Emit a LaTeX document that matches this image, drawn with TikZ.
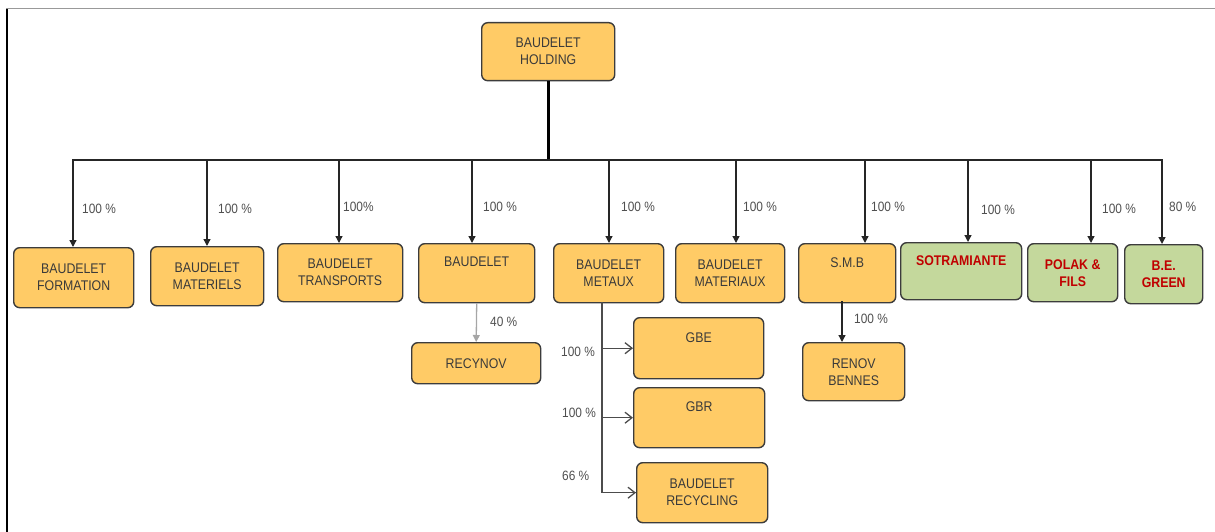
\documentclass[tikz,border=0pt]{standalone}
\usepackage{fontspec}
\setmainfont{Liberation Sans}[FakeStretch=0.88]
\usetikzlibrary{arrows.meta}
\definecolor{ofill}{HTML}{FFCB66}
\definecolor{gfill}{HTML}{C4D89C}
\definecolor{bordc}{HTML}{3C3C3C}
\definecolor{txtc}{HTML}{3A3A3A}
\definecolor{redt}{HTML}{C00000}
\definecolor{pctc}{HTML}{505050}
\tikzset{
  base/.style={draw=bordc, line width=1.4pt, rounded corners=6pt, align=center,
    inner sep=0pt, anchor=north west, font=\fontsize{14}{17}\selectfont},
  obox/.style={base, fill=ofill, text=txtc},
  gbox/.style={base, fill=gfill, text=redt, font=\fontsize{14}{17}\selectfont\bfseries},
  pct/.style={anchor=west, inner sep=0pt, text=pctc, font=\fontsize{13.5}{15}\selectfont},
  drop/.style={draw=black!85, line width=1.3pt, -{Triangle[width=7pt,length=7pt]}},
  subl/.style={draw=black!70, line width=1.3pt},
  subarr/.style={draw=black!70, line width=1.3pt, -{Straight Barb[length=7pt,width=11pt]}},
}
\begin{document}
\begin{tikzpicture}[x=1pt,y=-1pt]
\useasboundingbox (0,0) rectangle (1215,532);
% frame
\coordinate (ftl) at (6,9);
\coordinate (ftr) at (1215,9);
\coordinate (fbl) at (7,532);
\draw[black!40, line width=1pt] (ftl) -- (ftr);
\draw[black, line width=1.6pt] (7,9) -- (fbl);

% top
\node[obox, minimum width=133pt, minimum height=58pt] (hold) at (481,22) {BAUDELET\\HOLDING};

% level 2
\node[obox, minimum width=120pt, minimum height=60pt] (form) at (13,247) {BAUDELET\\FORMATION};
\node[obox, minimum width=113pt, minimum height=59pt] (mate) at (150,246) {BAUDELET\\MATERIELS};
\node[obox, minimum width=125pt, minimum height=58pt] (trans) at (277,243) {BAUDELET\\TRANSPORTS};
\node[obox, minimum width=116pt, minimum height=59pt] (baud) at (418,243) {BAUDELET\\\strut};
\node[obox, minimum width=110pt, minimum height=59pt] (metx) at (553,243) {BAUDELET\\METAUX};
\node[obox, minimum width=109pt, minimum height=59pt] (matx) at (675,243) {BAUDELET\\MATERIAUX};
\node[obox, minimum width=97pt, minimum height=59pt] (smb) at (798,243) {S.M.B\\\strut};
\node[gbox, minimum width=121pt, minimum height=57pt] (sotra) at (900,242) {SOTRAMIANTE\\\strut};
\node[gbox, minimum width=90pt, minimum height=58pt] (polak) at (1027,243) {POLAK \&\\FILS};
\node[gbox, minimum width=78pt, minimum height=59pt] (green) at (1124,244) {B.E.\\GREEN};

% level 3
\node[obox, minimum width=129pt, minimum height=41pt] (recy) at (411,342) {RECYNOV};
\node[obox, minimum width=130pt, minimum height=61pt] (gbe) at (633,317) {GBE\\\strut};
\node[obox, minimum width=131pt, minimum height=60pt] (gbr) at (633,387) {GBR\\\strut};
\node[obox, minimum width=131pt, minimum height=60pt] (brec) at (636,462) {BAUDELET\\RECYCLING};
\node[obox, minimum width=102pt, minimum height=58pt] (renov) at (802,342) {RENOV\\BENNES};

% bus
\coordinate (d1) at (73,160);
\coordinate (d2) at (207,160);
\coordinate (d3) at (339,160);
\coordinate (d4) at (472,160);
\coordinate (d5) at (609,160);
\coordinate (d6) at (736,160);
\coordinate (d7) at (865,160);
\coordinate (d8) at (968,160);
\coordinate (d9) at (1091,160);
\coordinate (d10) at (1162,160);
\draw[black, line width=3pt] (hold.south) -- (hold.south |- d1);
\draw[black!85, line width=2.4pt, line cap=rect] (d1) -- (d10);
\draw[drop] (d1) -- (d1 |- form.north);
\draw[drop] (d2) -- (d2 |- mate.north);
\draw[drop] (d3) -- (d3 |- trans.north);
\draw[drop] (d4) -- (d4 |- baud.north);
\draw[drop] (d5) -- (d5 |- metx.north);
\draw[drop] (d6) -- (d6 |- matx.north);
\draw[drop] (d7) -- (d7 |- smb.north);
\draw[drop] (d8) -- (d8 |- sotra.north);
\draw[drop] (d9) -- (d9 |- polak.north);
\draw[drop] (d10) -- (d10 |- green.north);

% percentages level 2
\node[pct] (p1) at (82,209) {100 \%};
\node[pct] (p2) at (218,209) {100 \%};
\node[pct] (p3) at (343,207) {100\%};
\node[pct] (p4) at (483,207) {100 \%};
\node[pct] (p5) at (621,207) {100 \%};
\node[pct] (p6) at (743,207) {100 \%};
\node[pct] (p7) at (871,207) {100 \%};
\node[pct] (p8) at (981,210) {100 \%};
\node[pct] (p9) at (1102,209) {100 \%};
\node[pct] (p10) at (1169,207) {80 \%};

% baudelet -> recynov
\draw[black!35, line width=1.3pt, -{Triangle[width=7pt,length=7pt]}] (baud.south) -- (recy.north);
\node[pct] (p11) at (490,322) {40 \%};

% metaux branches
\coordinate (m0) at (602,302);
\draw[subl] (m0) |- (brec.west);
\draw[subarr] (m0 |- gbe.west) -- (gbe.west);
\draw[subarr] (m0 |- gbr.west) -- (gbr.west);
\draw[subarr] (m0 |- brec.west) -- (brec.west);
\node[pct] (p12) at (561,352) {100 \%};
\node[pct] (p13) at (562,413) {100 \%};
\node[pct] (p14) at (562,476) {66 \%};

% smb -> renov
\coordinate (s0) at (842,301);
\draw[drop] (s0) -- (s0 |- renov.north);
\node[pct] (p15) at (854,319) {100 \%};
\end{tikzpicture}
\end{document}
